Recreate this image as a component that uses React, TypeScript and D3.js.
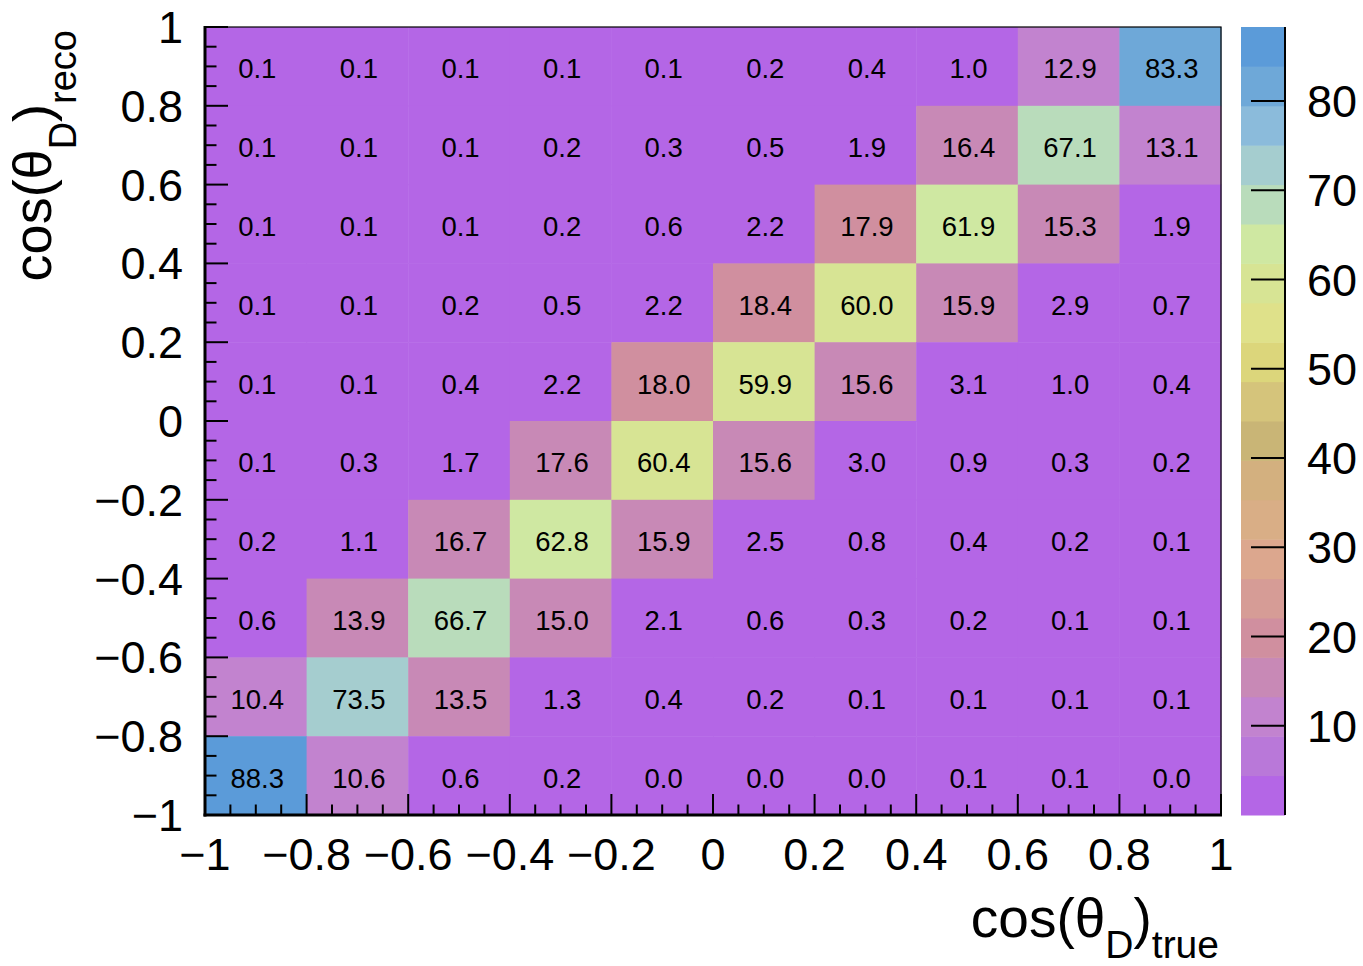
import React from "react";
import * as d3 from "d3";

const xEdges = [-1, -0.8, -0.6, -0.4, -0.2, 0, 0.2, 0.4, 0.6, 0.8, 1];
const yEdges = [-1, -0.8, -0.6, -0.4, -0.2, 0, 0.2, 0.4, 0.6, 0.8, 1];

// rows from top (reco 0.8..1) to bottom (reco -1..-0.8)
const row09 = [0.1, 0.1, 0.1, 0.1, 0.1, 0.2, 0.4, 1.0, 12.9, 83.3];
const row07 = [0.1, 0.1, 0.1, 0.2, 0.3, 0.5, 1.9, 16.4, 67.1, 13.1];
const row05 = [0.1, 0.1, 0.1, 0.2, 0.6, 2.2, 17.9, 61.9, 15.3, 1.9];
const row03 = [0.1, 0.1, 0.2, 0.5, 2.2, 18.4, 60.0, 15.9, 2.9, 0.7];
const row01 = [0.1, 0.1, 0.4, 2.2, 18.0, 59.9, 15.6, 3.1, 1.0, 0.4];
const rowm01 = [0.1, 0.3, 1.7, 17.6, 60.4, 15.6, 3.0, 0.9, 0.3, 0.2];
const rowm03 = [0.2, 1.1, 16.7, 62.8, 15.9, 2.5, 0.8, 0.4, 0.2, 0.1];
const rowm05 = [0.6, 13.9, 66.7, 15.0, 2.1, 0.6, 0.3, 0.2, 0.1, 0.1];
const rowm07 = [10.4, 73.5, 13.5, 1.3, 0.4, 0.2, 0.1, 0.1, 0.1, 0.1];
const rowm09 = [88.3, 10.6, 0.6, 0.2, 0.0, 0.0, 0.0, 0.1, 0.1, 0.0];
const rowsTopDown = [row09, row07, row05, row03, row01, rowm01, rowm03, rowm05, rowm07, rowm09];

const xTickValues = [-1, -0.8, -0.6, -0.4, -0.2, 0, 0.2, 0.4, 0.6, 0.8, 1];
const yTickValues = [-1, -0.8, -0.6, -0.4, -0.2, 0, 0.2, 0.4, 0.6, 0.8, 1];
const zTickValues = [10, 20, 30, 40, 50, 60, 70, 80];
const zMin = 0;
const zMax = 88.3;

const palette = [
  "#b466e6", "#b978d9", "#c283cf", "#c889b6", "#d08f9f",
  "#d69c96", "#dca78e", "#d9ae86", "#d3b07f", "#c9b576",
  "#d5c47b", "#dcd67b", "#dfe18a", "#d7e494", "#cfe8a2",
  "#b9dcbb", "#a5cdcf", "#8bbbdb", "#6ea8d8", "#5b9bd9",
];

const FONT = "'Liberation Sans', Arial, Helvetica, sans-serif";

function fmtTick(v: number) {
  const r = Math.round(v * 10) / 10;
  if (Math.abs(r) < 1e-9) return "0";
  const s = Math.abs(r) === 1 ? "1" : Math.abs(r).toString();
  return (r < 0 ? "\u2212" : "") + s;
}

export default function App() {
  const W = 1363;
  const H = 966;
  const L = 205, R = 1221, T = 27, B = 815;
  const x = d3.scaleLinear().domain([-1, 1]).range([L, R]);
  const y = d3.scaleLinear().domain([-1, 1]).range([B, T]);
  const color = d3.scaleQuantize<string>().domain([zMin, zMax]).range(palette);
  const czL = 1241, czR = 1285;
  const z = d3.scaleLinear().domain([zMin, zMax]).range([B, T]);

  const cells: any[] = [];
  rowsTopDown.forEach((row, ri) => {
    const yi = 9 - ri;
    row.forEach((v, xi) => {
      cells.push({ x0: xEdges[xi], x1: xEdges[xi + 1], y0: yEdges[yi], y1: yEdges[yi + 1], v });
    });
  });

  const minorX: number[] = [];
  for (let i = 0; i <= 40; i++) {
    if (i % 4 !== 0) minorX.push(-1 + i * 0.05);
  }
  const bandStep = (zMax - zMin) / palette.length;

  return (
    <svg width={W} height={H} style={{ position: "absolute", left: 0, top: 0, background: "#fff" }} fontFamily={FONT}>
      {cells.map((c, i) => (
        <rect key={"c" + i} x={x(c.x0)} y={y(c.y1)} width={x(c.x1) - x(c.x0) + 0.5} height={y(c.y0) - y(c.y1) + 0.5}
          fill={color(Math.min(c.v, zMax - 1e-6))} />
      ))}
      {cells.map((c, i) => (
        <text key={"t" + i} x={(x(c.x0) + x(c.x1)) / 2 + 1.5} y={(y(c.y0) + y(c.y1)) / 2 + 12}
          textAnchor="middle" fontSize={27.5} fill="#000">{c.v.toFixed(1)}</text>
      ))}
      {/* frame */}
      <rect x={L} y={T} width={R - L} height={B - T} fill="none" stroke="#000" strokeWidth={1.2} />
      <line x1={L} x2={L} y1={T - 1} y2={B + 1.5} stroke="#000" strokeWidth={3} />
      <line x1={L - 1.5} x2={R + 1} y1={B} y2={B} stroke="#000" strokeWidth={3} />
      {/* x ticks */}
      {xTickValues.map((v, i) => (
        <line key={"xm" + i} x1={x(v)} x2={x(v)} y1={B} y2={B - 21} stroke="#000" strokeWidth={2} />
      ))}
      {minorX.map((v, i) => (
        <line key={"xn" + i} x1={x(v)} x2={x(v)} y1={B} y2={B - 10.5} stroke="#000" strokeWidth={2} />
      ))}
      {yTickValues.map((v, i) => (
        <line key={"ym" + i} x1={L} x2={L + 23} y1={y(v)} y2={y(v)} stroke="#000" strokeWidth={2} />
      ))}
      {minorX.map((v, i) => (
        <line key={"yn" + i} x1={L} x2={L + 11.5} y1={y(v)} y2={y(v)} stroke="#000" strokeWidth={2} />
      ))}
      {/* tick labels */}
      {xTickValues.map((v, i) => (
        <text key={"xl" + i} x={x(v)} y={870} textAnchor="middle" fontSize={45} fill="#000">{fmtTick(v)}</text>
      ))}
      {yTickValues.map((v, i) => (
        <text key={"yl" + i} x={183} y={y(v) + 16} textAnchor="end" fontSize={45} fill="#000">{fmtTick(v)}</text>
      ))}
      {/* axis titles */}
      <text x={1219} y={937} textAnchor="end" fontSize={55} fill="#000">
        cos(θ<tspan fontSize={39} dy={21}>D</tspan><tspan dy={-21}>)</tspan><tspan fontSize={39} dy={21}>true</tspan>
      </text>
      <text transform="translate(51,30) rotate(-90)" textAnchor="end" fontSize={54} fill="#000">
        cos(θ<tspan fontSize={38} dy={25}>D</tspan><tspan dy={-25}>)</tspan><tspan fontSize={38} dy={25}>reco</tspan>
      </text>
      {/* color bar */}
      {palette.map((c, i) => (
        <rect key={"p" + i} x={czL} width={czR - czL} y={z(zMin + (i + 1) * bandStep)}
          height={z(zMin + i * bandStep) - z(zMin + (i + 1) * bandStep) + 0.5} fill={c} />
      ))}
      <line x1={czR} x2={czR} y1={T} y2={B} stroke="#000" strokeWidth={2} />
      {zTickValues.map((v, i) => (
        <g key={"zt" + i}>
          <line x1={czR} x2={czR - 34} y1={z(v)} y2={z(v)} stroke="#000" strokeWidth={2} />
          <text x={1307} y={z(v) + 16} fontSize={45} fill="#000">{v}</text>
        </g>
      ))}
    </svg>
  );
}
